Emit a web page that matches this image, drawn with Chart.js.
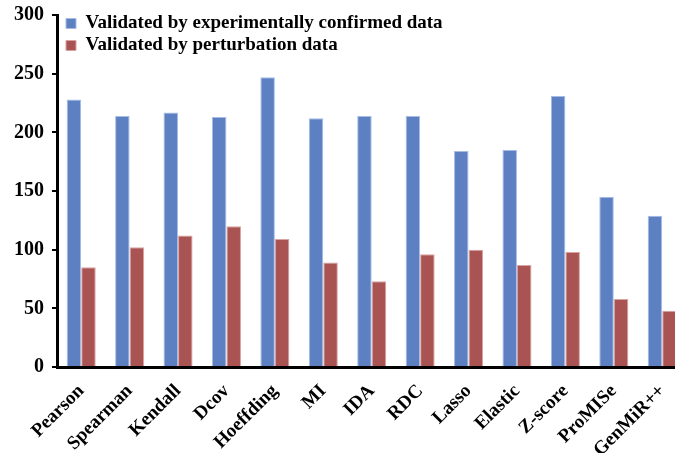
<!DOCTYPE html>
<html>
<head>
<meta charset="utf-8">
<script src="https://cdn.jsdelivr.net/npm/chart.js@4"></script>
<style>
  html, body { margin: 0; padding: 0; background: #fff; }
  #wrap { width: 675px; height: 453px; }
</style>
</head>
<body>
<div id="wrap"><canvas id="myChart"></canvas></div>
<script>
var methods = ['Pearson', 'Spearman', 'Kendall', 'Dcov', 'Hoeffding', 'MI', 'IDA', 'RDC', 'Lasso', 'Elastic', 'Z-score', 'ProMISe', 'GenMiR++'];
var experimental = [228, 214, 217, 213, 247, 212, 214, 214, 184, 185, 231, 145, 129];
var perturbation = [85, 102, 112, 120, 109, 89, 73, 96, 100, 87, 98, 58, 48];
var yTicks = [0, 50, 100, 150, 200, 250, 300];

var serif = '"Liberation Serif", "Times New Roman", serif';

// legend sits inside the plot at the top-left; the last category runs
// a little past the right edge of the canvas like in the original figure
var layoutTweaks = {
    id: 'layoutTweaks',
    afterLayout: function (chart) {
        var x = chart.scales.x;
        x.right += 17;
        x.width += 17;
        x.configure();

        var y = chart.scales.y;
        y.top -= 5;
        y.height += 5;
        y.configure();
        chart.chartArea.top = y.top;

        chart.legend.left = chart.chartArea.left + 6;
        chart.legend.top = y.top - 4;
    }
};

var ctx = document.getElementById('myChart').getContext('2d');
var chart = new Chart(ctx, {
    type: 'bar',
    data: {
        labels: methods,
        datasets: [
        {
            label: 'Validated by experimentally confirmed data',
            backgroundColor: '#5D80C3',
            borderColor: '#A6BCE4',
            borderWidth: 1,
            data: experimental
        },
        {
            label: 'Validated by perturbation data',
            backgroundColor: '#A95452',
            borderColor: '#D9A3A2',
            borderWidth: 1,
            data: perturbation
        }
    ]},
    plugins: [layoutTweaks],
    options: {
        responsive: true,
        maintainAspectRatio: false,
        animation: false,
        layout: { padding: { left: 6, top: 0, right: 0, bottom: 0 } },
        datasets: {
            bar: { categoryPercentage: 0.6, barPercentage: 1.0 }
        },
        plugins: {
            tooltip: { enabled: false },
            legend: {
                position: 'chartArea',
                align: 'start',
                labels: {
                    color: '#000',
                    font: { family: serif, size: 19, weight: 'bold', lineHeight: 1 },
                    boxWidth: 10,
                    boxHeight: 10,
                    padding: 3
                }
            }
        },
        scales: {
            x: {
                grid: { display: false, drawTicks: false },
                border: { color: '#000', width: 3 },
                afterFit: function (scale) { scale.height = 86; },
                ticks: {
                    color: '#000',
                    font: { family: serif, size: 19, weight: 'bold' },
                    maxRotation: 45,
                    minRotation: 45,
                    padding: 13
                }
            },
            y: {
                min: 0,
                max: 300,
                afterBuildTicks: function (axis) {
                    axis.ticks = yTicks.map(function (v) { return { value: v }; });
                },
                grid: { drawOnChartArea: false, drawTicks: true, tickLength: 5, color: '#000', lineWidth: 2 },
                border: { color: '#000', width: 3 },
                ticks: {
                    color: '#000',
                    font: { family: serif, size: 20, weight: 'bold' },
                    padding: 8
                }
            }
        }
    }
});
</script>
</body>
</html>
